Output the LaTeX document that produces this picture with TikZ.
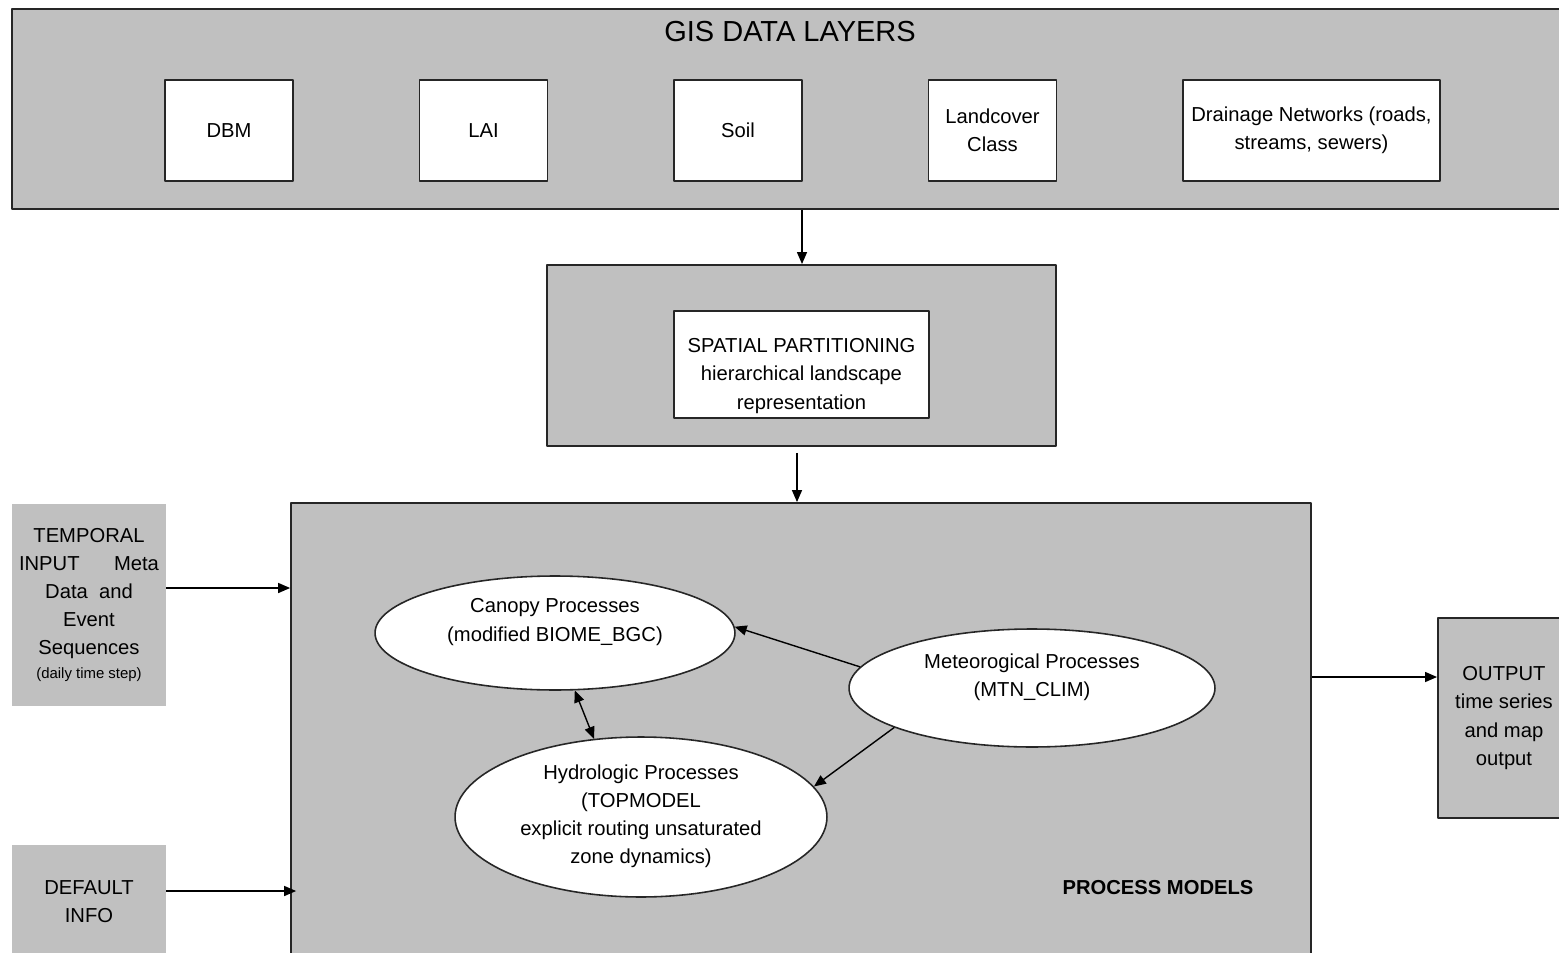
\documentclass[tikz,border=0pt]{standalone}
\usepackage{fontspec}
\setmainfont{Liberation Sans}
\usetikzlibrary{shapes.geometric,arrows.meta}
\definecolor{panelgray}{HTML}{C0C0C0}
\tikzset{
  panel/.style={draw=black!85, line width=1.1pt, fill=panelgray, inner sep=0pt},
  layer/.style={draw=black!85, line width=1.1pt, fill=white, inner sep=0pt, align=center, minimum height=2.02cm},
  inbox/.style={fill=panelgray, inner sep=0pt, align=center, minimum width=3.08cm},
  proc/.style={ellipse, draw=black!85, line width=0.9pt, fill=white, inner sep=0pt},
  note/.style={align=center, inner sep=0pt},
}
\begin{document}
\begin{tikzpicture}[x=0.02cm, y=-0.02cm, font=\fontsize{11.5}{16}\selectfont, line join=round, >={Triangle[length=2.4mm,width=2mm]}]
	\clip (0,0) rectangle (1559,953);
	% GIS layers along the top
	\node[panel, minimum width=31.16cm, minimum height=4cm] (gis) at (791,109) {};
	\node[note, font=\fontsize{16.5}{20}\selectfont] (gistitle) at (790,32) {GIS DATA LAYERS};
	\node[layer, minimum width=2.56cm] (dem) at (229,130.5) {DBM};
	\node[layer, minimum width=2.56cm] (lai) at (483.5,130.5) {LAI};
	\node[layer, minimum width=2.56cm] (soil) at (738,130.5) {Soil};
	\node[layer, minimum width=2.56cm] (cover) at (992.5,130.5) {Landcover\\Class};
	\node[layer, minimum width=5.14cm] (drain) at (1311.5,130.5) {Drainage Networks (roads,\\streams, sewers)};
	% partitioning
	\node[panel, minimum width=10.18cm, minimum height=3.62cm] (part) at (801.5,355.5) {};
	\node[layer, minimum width=5.1cm, minimum height=2.14cm] (partbox) at (801.5,364.5) {};
	\node[note] (parttext) at (801.5,376) {SPATIAL PARTITIONING\\hierarchical landscape\\representation};
	% process models
	\node[panel, minimum width=20.4cm, minimum height=9.24cm] (models) at (801,734) {};
	\node[note, font=\fontsize{11.5}{16}\selectfont\bfseries] (modelstext) at (1158,888) {PROCESS MODELS};
	\node[proc, minimum width=7.2cm, minimum height=2.28cm] (canopy) at (555,633) {};
	\node[note] (canopytext) at (555,622) {Canopy Processes\\(modified BIOME\_BGC)};
	\node[proc, minimum width=7.44cm, minimum height=3.2cm] (hydro) at (641,817) {};
	\node[note] (hydrotext) at (641,816) {Hydrologic Processes\\(TOPMODEL\\explicit routing unsaturated\\zone dynamics)};
	\node[proc, minimum width=7.32cm, minimum height=2.36cm] (met) at (1032,688) {};
	\node[note] (mettext) at (1032,677) {Meteorogical Processes\\(MTN\_CLIM)};
	% inputs and output
	\node[inbox, minimum height=4.04cm] (temporal) at (89,605) {TEMPORAL\\\makebox[2.8cm][s]{INPUT\hfill Meta}\\Data\ \ and\\Event\\Sequences\\[-2.5pt]{\fontsize{8.5}{10}\selectfont(daily time step)}};
	\node[inbox, minimum height=2.4cm] (default) at (89,905) {};
	\node[note] (defaulttext) at (89,902) {DEFAULT\\INFO};
	\node[panel, align=center, minimum width=2.64cm, minimum height=4cm] (output) at (1504,718) {OUTPUT\\time series\\and map\\output};
	% connectors
	\draw[->, line width=0.8pt] (gis.south -| 802,0) -- (part.north -| 802,0);
	\draw[->, line width=0.8pt] ([yshift=-0.12cm]part.south -| 797,0) -- (models.north -| 797,0);
	\draw[->, line width=0.8pt] ([yshift=0.34cm]temporal.east) -- ([yshift=0.34cm]temporal.east -| models.west);
	\draw[->, line width=0.8pt] ([yshift=0.28cm]default.east) -- ([yshift=0.28cm,xshift=0.12cm]default.east -| models.west);
	\draw[->, line width=0.8pt] ([yshift=0.82cm]output.west -| models.east) -- ([yshift=0.82cm]output.west);
	\draw[->, line width=0.8pt] (met.173) -- (canopy.2);
	\draw[->, line width=0.8pt] (met.196) -- (hydro.10);
	\draw[<->, line width=0.8pt] (canopy.289) -- (hydro.121);
\end{tikzpicture}
\end{document}
